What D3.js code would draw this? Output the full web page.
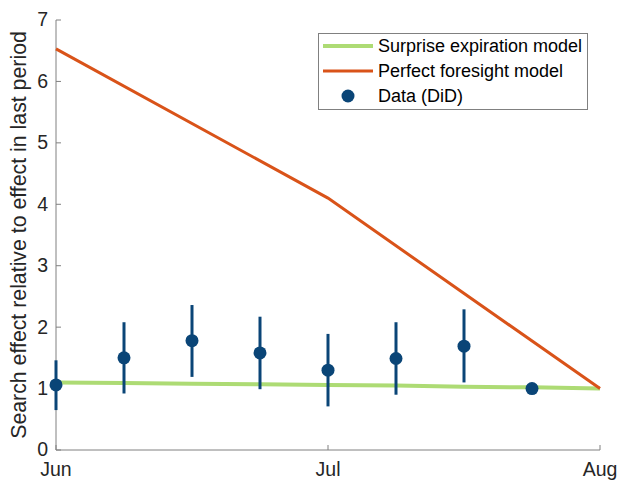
<!DOCTYPE html>
<html><head><meta charset="utf-8">
<script src="https://cdn.jsdelivr.net/npm/d3@7"></script>
<style>body{margin:0;background:#fff}svg{display:block}</style>
</head><body>
<svg id="c" width="620" height="481"></svg>
<script>
// Data
const weeks = [0,1,2,3,4,5,6,7,8];
const surpriseModel = [1.10,1.09,1.08,1.07,1.06,1.05,1.03,1.02,1.00];
const foresightWeeks = [0,4,8];
const foresightModel = [6.53,4.10,1.00];
const dataWeeks = [0,1,2,3,4,5,6,7];
const dataMean = [1.06,1.50,1.78,1.58,1.30,1.49,1.69,1.00];
const dataLow  = [0.65,0.92,1.19,0.99,0.71,0.90,1.10,null];
const dataHigh = [1.46,2.08,2.36,2.17,1.89,2.08,2.29,null];
const xTickVals = [0,4,8];
const xTickLabels = ["Jun","Jul","Aug"];
const yTicks = [0,1,2,3,4,5,6,7];
const legendLabels = ["Surprise expiration model","Perfect foresight model","Data (DiD)"];

const svg = d3.select("#c");
const L=56,R=600,T=20,B=450;
const x = d3.scaleLinear().domain([0,8]).range([L,R]);
const y = d3.scaleLinear().domain([0,7]).range([B,T]);
const axisCol="#808080", textCol="#262626";
const green="#addb74", orange="#d95319", blue="#0a4577";
const FF="Liberation Sans, Arial, sans-serif";

svg.append("line").attr("x1",L).attr("x2",L).attr("y1",T).attr("y2",B).attr("stroke",axisCol).attr("stroke-width",1);
svg.append("line").attr("x1",L).attr("x2",R).attr("y1",B).attr("y2",B).attr("stroke",axisCol).attr("stroke-width",1);
yTicks.forEach(t=>{
  svg.append("line").attr("x1",L).attr("x2",L+5).attr("y1",y(t)).attr("y2",y(t)).attr("stroke",axisCol);
  svg.append("text").attr("x",L-8).attr("y",y(t)).attr("dy","0.33em").attr("text-anchor","end")
    .attr("font-family",FF).attr("font-size",19.5).attr("fill",textCol).text(t);
});
xTickVals.forEach((t,i)=>{
  svg.append("line").attr("x1",x(t)).attr("x2",x(t)).attr("y1",B).attr("y2",B-5).attr("stroke",axisCol);
  svg.append("text").attr("x",x(t)).attr("y",B+26).attr("text-anchor","middle")
    .attr("font-family",FF).attr("font-size",19.5).attr("fill",textCol).text(xTickLabels[i]);
});
svg.append("text").attr("transform",`translate(26,${(T+B)/2}) rotate(-90)`).attr("text-anchor","middle")
  .attr("font-family",FF).attr("font-size",21.3).attr("fill",textCol)
  .text("Search effect relative to effect in last period");

const line = d3.line().x(d=>x(d[0])).y(d=>y(d[1]));
svg.append("path").datum(weeks.map((w,i)=>[w,surpriseModel[i]])).attr("d",line)
  .attr("fill","none").attr("stroke",green).attr("stroke-width",4);
svg.append("path").datum(foresightWeeks.map((w,i)=>[w,foresightModel[i]])).attr("d",line)
  .attr("fill","none").attr("stroke",orange).attr("stroke-width",3);

dataWeeks.forEach((w,i)=>{
  if(dataLow[i]!==null){
    svg.append("line").attr("x1",x(w)).attr("x2",x(w)).attr("y1",y(dataLow[i])).attr("y2",y(dataHigh[i]))
      .attr("stroke",blue).attr("stroke-width",3);
  }
});
svg.selectAll("circle.pt").data(dataWeeks).enter().append("circle").attr("class","pt")
  .attr("cx",d=>x(d)).attr("cy",(d,i)=>y(dataMean[i])).attr("r",6.5).attr("fill",blue);

const lg = svg.append("g");
lg.append("rect").attr("x",318.5).attr("y",33.5).attr("width",269).attr("height",76)
  .attr("fill","#fff").attr("stroke","#808080").attr("stroke-width",1);
const rows=[46,71,96];
lg.append("line").attr("x1",323).attr("x2",373).attr("y1",rows[0]).attr("y2",rows[0]).attr("stroke",green).attr("stroke-width",4);
lg.append("line").attr("x1",323).attr("x2",373).attr("y1",rows[1]).attr("y2",rows[1]).attr("stroke",orange).attr("stroke-width",3);
lg.append("circle").attr("cx",348).attr("cy",rows[2]).attr("r",6.5).attr("fill",blue);
legendLabels.forEach((t,i)=>{
  lg.append("text").attr("x",378).attr("y",rows[i]).attr("dy","0.36em")
    .attr("font-family",FF).attr("font-size",18).attr("fill","#000").text(t);
});
</script>
</body></html>
